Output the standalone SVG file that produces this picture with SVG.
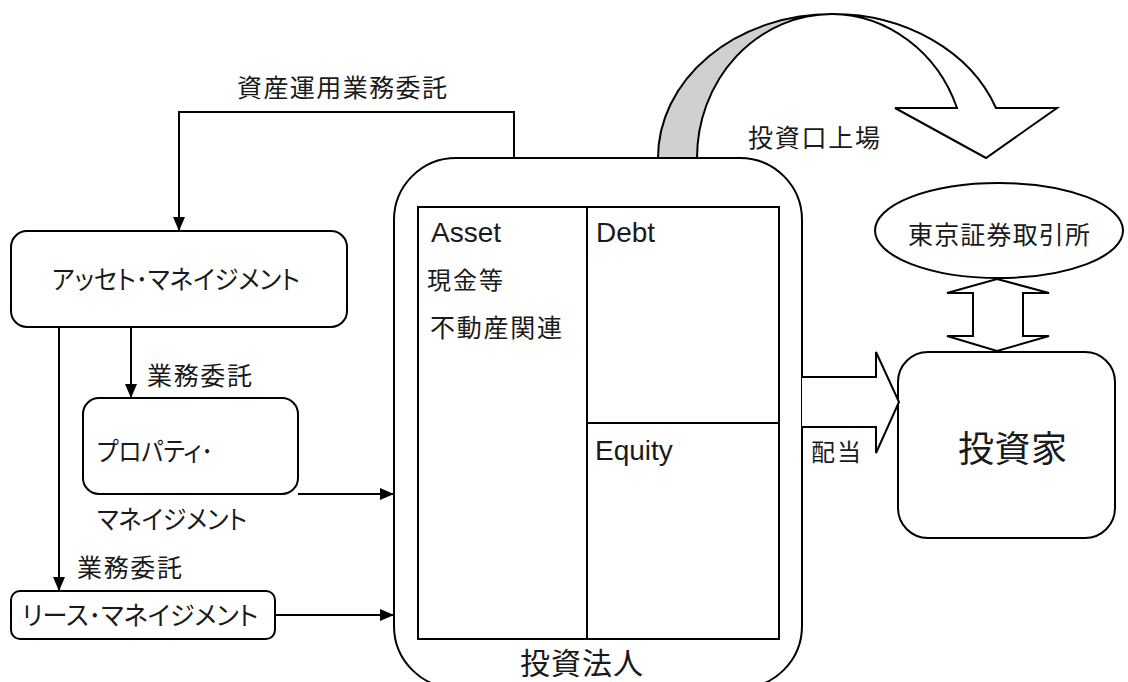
<svg xmlns="http://www.w3.org/2000/svg" width="1128" height="682" viewBox="0 0 1128 682">
<defs>
<style>
.box{fill:#fff;stroke:#000;stroke-width:2}
.ln{fill:none;stroke:#000;stroke-width:2}
.blk{fill:#fff;stroke:#000;stroke-width:2;stroke-linejoin:miter}
.jp{font-family:"Noto Sans CJK JP","Noto Sans CJK SC",sans-serif;fill:#1a1a1a}
.kana{font-feature-settings:"palt" 1;font-size:26px}
.en{font-family:"Liberation Sans",Arial,sans-serif;fill:#1a1a1a;font-size:28px}
</style>
<marker id="ah" markerUnits="userSpaceOnUse" markerWidth="14" markerHeight="12" refX="14" refY="6" orient="auto">
<path d="M0,0 L14,6 L0,12 Z" fill="#000"/>
</marker>
</defs>
<rect width="1128" height="682" fill="#fff"/>

<g id="listing-arrow">
<path d="M658,158 A174,144 0 0 1 832,14 A135,144 0 0 0 697,158 Z" fill="#d0d0d0" stroke="#000" stroke-width="2" stroke-linejoin="round"/>
<path d="M832,14 A174,144 0 0 1 996,108 L1057,108 L986,158 L895,108 L957,108 A135,144 0 0 0 832,14 Z" class="blk"/>
<text class="jp" x="748" y="147" font-size="25" textLength="132" lengthAdjust="spacing">投資口上場</text>
</g>

<g id="reit">
<rect class="box" x="394" y="158" width="408" height="530" rx="62" ry="62"/>
<rect class="ln" x="418" y="207" width="361" height="432"/>
<line class="ln" x1="587" y1="207" x2="587" y2="639"/>
<line class="ln" x1="587" y1="423" x2="779" y2="423"/>
<text class="en" x="431" y="242">Asset</text>
<text class="en" x="596" y="242">Debt</text>
<text class="en" x="595" y="460">Equity</text>
<text class="jp" x="427" y="289" font-size="24" textLength="76" lengthAdjust="spacing">現金等</text>
<text class="jp" x="430" y="337" font-size="25" textLength="132" lengthAdjust="spacing">不動産関連</text>
<text class="jp" x="520" y="674" font-size="30" textLength="123" lengthAdjust="spacing">投資法人</text>
</g>

<g id="tse">
<ellipse class="box" cx="999" cy="230.5" rx="124" ry="47.5"/>
<text class="jp" x="908" y="244" font-size="25" textLength="182" lengthAdjust="spacing">東京証券取引所</text>
</g>

<g id="investor">
<rect class="box" x="898" y="352" width="217" height="186" rx="30" ry="30"/>
<text class="jp" x="958" y="462" font-size="36" textLength="109" lengthAdjust="spacing">投資家</text>
</g>

<g id="asset-mgmt">
<rect class="box" x="11" y="231" width="336" height="96" rx="16" ry="16"/>
<text class="jp kana" x="52" y="289" textLength="248" lengthAdjust="spacingAndGlyphs">アッセト･マネイジメント</text>
</g>

<g id="property-mgmt">
<rect class="box" x="83" y="398" width="215" height="96" rx="16" ry="16"/>
<text class="jp kana" x="97" y="461" textLength="116" lengthAdjust="spacingAndGlyphs">プロパティ･</text>
<text class="jp kana" x="97" y="529" textLength="150" lengthAdjust="spacingAndGlyphs">マネイジメント</text>
</g>

<g id="lease-mgmt">
<rect class="box" x="11" y="591" width="264" height="48" rx="9" ry="9"/>
<text class="jp kana" x="22" y="625" textLength="236" lengthAdjust="spacingAndGlyphs">リース･マネイジメント</text>
</g>

<g id="connectors">
<polyline class="ln" points="514,158 514,112 179,112 179,231" marker-end="url(#ah)"/>
<text class="jp" x="237" y="97" font-size="25" textLength="210" lengthAdjust="spacing">資産運用業務委託</text>
<line class="ln" x1="131" y1="327" x2="131" y2="398" marker-end="url(#ah)"/>
<text class="jp" x="147" y="385" font-size="25" textLength="105" lengthAdjust="spacing">業務委託</text>
<line class="ln" x1="59" y1="327" x2="59" y2="591" marker-end="url(#ah)"/>
<text class="jp" x="77" y="577" font-size="25" textLength="105" lengthAdjust="spacing">業務委託</text>
<line class="ln" x1="298" y1="494" x2="394" y2="494" marker-end="url(#ah)"/>
<line class="ln" x1="275" y1="615" x2="394" y2="615" marker-end="url(#ah)"/>
<path class="blk" d="M802,377 L876,377 L876,352 L899,402 L876,453 L876,427 L802,427"/>
<text class="jp" x="811" y="461" font-size="24" textLength="50" lengthAdjust="spacing">配当</text>
<path class="blk" d="M997,279 L1049,293 L1023,293 L1023,336 L1049,336 L997,351 L947,336 L973,336 L973,293 L947,293 Z"/>
</g>
</svg>
